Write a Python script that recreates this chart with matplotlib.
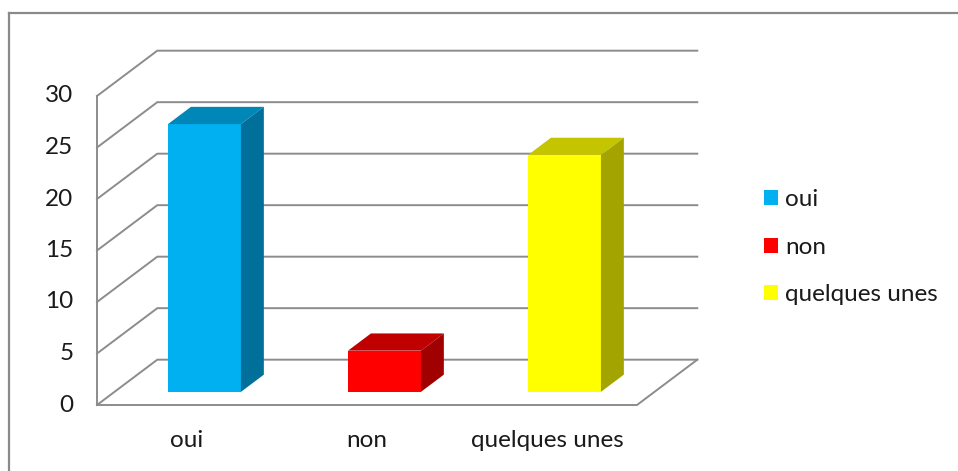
import matplotlib
matplotlib.use("Agg")
import matplotlib.pyplot as plt
from matplotlib.patches import Polygon, Patch
from matplotlib.lines import Line2D

categories = ["oui", "non", "quelques unes"]
values = [26, 4, 23]
front_colors = ["#00B0F0", "#FF0000", "#FFFF00"]
top_colors = ["#0087B8", "#C00000", "#C4C400"]
side_colors = ["#006F99", "#A00000", "#A4A400"]
ticks = [0, 5, 10, 15, 20, 25, 30]

plt.rcParams["font.family"] = ["Lato", "DejaVu Sans"]
TXT = "#1a1a1a"
GRID = "#8c8c8c"
FS = 17.5

# oblique depth offset of the 3-D box (category units, value units)
DX, DY = 0.335, 4.4
# depth span occupied by the bars, and bar width
d0, d1 = 0.29, 0.67
bw = 0.405
n = len(categories)

fig = plt.figure(figsize=(9.58, 4.71), dpi=100)
ax = fig.add_axes([0, 0, 1, 1])
ax.set_xlim(-97 / 180, (958 - 97) / 180)
ax.set_ylim(-66 / 10.3, 405 / 10.3)
ax.axis("off")

# chart-area border (top and left edges visible)
fig.add_artist(Line2D([9 / 958, 9 / 958], [0, 1 - 13 / 471], transform=fig.transFigure,
                      color="#8a8a8a", lw=1.6))
fig.add_artist(Line2D([9 / 958, 1], [1 - 13 / 471, 1 - 13 / 471], transform=fig.transFigure,
                      color="#8a8a8a", lw=1.6))

# gridlines: side wall diagonal + back wall horizontal
for t in ticks:
    ax.plot([0, DX, n + DX], [t, t + DY, t + DY], color=GRID, lw=1.4, zorder=1,
            solid_joinstyle="miter")
# left front edge and floor outline
ax.plot([0, 0], [0, ticks[-1]], color=GRID, lw=1.4, zorder=1)
ax.plot([0, n, n + DX], [0, 0, DY], color=GRID, lw=1.4, zorder=1, solid_joinstyle="miter")

# bars: front face, top face, right side face
ddx, ddy = (d1 - d0) * DX, (d1 - d0) * DY
base = d0 * DY
for i, (v, fc, tc, sc) in enumerate(zip(values, front_colors, top_colors, side_colors)):
    c = i + 0.5 + d0 * DX
    ax.bar(c, v, width=bw, bottom=base, color=fc, zorder=3, linewidth=0)
    xl, xr, top = c - bw / 2, c + bw / 2, v + base
    ax.add_patch(Polygon([(xl, top), (xr, top), (xr + ddx, top + ddy), (xl + ddx, top + ddy)],
                         closed=True, facecolor=tc, edgecolor="none", zorder=3))
    ax.add_patch(Polygon([(xr, base), (xr, top), (xr + ddx, top + ddy), (xr + ddx, base + ddy)],
                         closed=True, facecolor=sc, edgecolor="none", zorder=3))

# value axis labels
for t in ticks:
    ax.text(-0.13, t, str(t), ha="right", va="center", fontsize=FS, color=TXT)

# category labels
for i, cat in enumerate(categories):
    ax.text(i + 0.5, -3.4, cat, ha="center", va="center", fontsize=FS, color=TXT)

handles = [Patch(facecolor=fc, edgecolor="none", label=cat)
           for cat, fc in zip(categories, front_colors)]
fig.legend(handles=handles, loc="upper left", bbox_to_anchor=(764 / 958, 1 - 189 / 471),
           frameon=False, fontsize=FS, handlelength=0.58, handleheight=0.58,
           handletextpad=0.3, labelspacing=1.1, borderpad=0, borderaxespad=0,
           labelcolor=TXT)

fig.savefig("out.png", dpi=100)
